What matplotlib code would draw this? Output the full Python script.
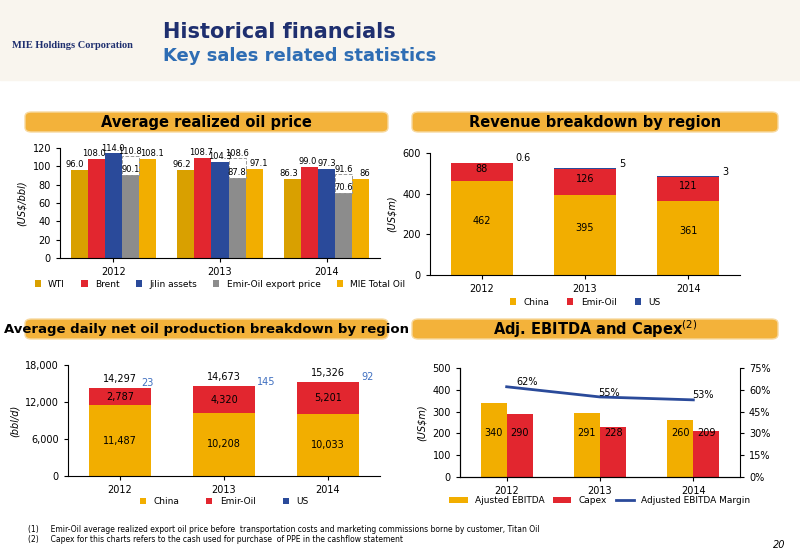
import matplotlib
matplotlib.use("Agg")
import matplotlib.pyplot as plt
import numpy as np
from matplotlib.patches import FancyBboxPatch, Rectangle

years = ["2012", "2013", "2014"]
# Average realized oil price
wti = [96.0, 96.2, 86.3]
brent = [108.0, 108.7, 99.0]
jilin = [114.0, 104.3, 97.3]
emir_export = [90.1, 87.8, 70.6]
emir_before = [110.8, 108.6, 91.6]
mie_total = [108.1, 97.1, 86]
# Revenue
rev_china = [462, 395, 361]
rev_emir = [88, 126, 121]
rev_us = [0.6, 5, 3]
# Production
prod_china = [11487, 10208, 10033]
prod_emir = [2787, 4320, 5201]
prod_us = [23, 145, 92]
prod_total = [14297, 14673, 15326]
# EBITDA
ebitda = [340, 291, 260]
capex = [290, 228, 209]
margin = [62, 55, 53]

GOLD = "#F2AE00"; WTI = "#D9A000"; RED = "#E2262F"; BLUE = "#2A4A9A"; GREY = "#8C8C8C"
fig = plt.figure(figsize=(8, 5.54), dpi=100)
W, H = 800, 554
def fx(x): return x / W
def fy(y): return 1 - y / H

# header
fig.patches.append(Rectangle((0, fy(80)), 1, 80 / H, transform=fig.transFigure, color="#F9F5EE", zorder=0))
fig.text(fx(163), fy(32), "Historical financials", fontsize=15, fontweight="bold", color="#1F2F6F", va="center")
fig.text(fx(163), fy(56), "Key sales related statistics", fontsize=13, fontweight="bold", color="#2E6DB4", va="center")
fig.text(fx(12), fy(45), "MIE Holdings Corporation", fontsize=7.5, fontweight="bold", color="#1F2F6F", va="center", family="Liberation Serif")

def header(x0, x1, y, text, fs=10.5):
    fig.patches.append(FancyBboxPatch((fx(x0), fy(y + 10)), (x1 - x0) / W, 20 / H,
                                      boxstyle="round,pad=0,rounding_size=0.008", transform=fig.transFigure,
                                      facecolor="#F3B23A", edgecolor="#F7D9A0", zorder=1))
    fig.text(fx((x0 + x1) / 2), fy(y), text, fontsize=fs, fontweight="bold", ha="center", va="center", zorder=2)

header(25, 388, 122, "Average realized oil price")
header(412, 778, 122, "Revenue breakdown by region")
header(25, 388, 329, "Average daily net oil production breakdown by region", fs=9.5)
header(412, 778, 329, "Adj. EBITDA and Capex$^{(2)}$")

def style(ax):
    for s in ["top", "right"]:
        ax.spines[s].set_visible(False)
    ax.tick_params(labelsize=7, length=3)

# TL
ax = fig.add_axes([0.075, 0.534, 0.4, 0.199])
x = np.arange(3); w = 0.16
series = [(wti, WTI, "WTI"), (brent, RED, "Brent"), (jilin, BLUE, "Jilin assets"),
          (emir_export, GREY, "Emir-Oil export price"), (mie_total, GOLD, "MIE Total Oil")]
for i, (vals, c, lab) in enumerate(series):
    pos = x + (i - 2) * w
    ax.bar(pos, vals, w, color=c, label=lab)
    for p, v in zip(pos, vals):
        dx = {0: -0.04, 1: -0.02, 2: 0.0, 3: 0.0, 4: 0.04}[i]
        ax.text(p + dx, v + 1, f"{v}", ha="center", va="bottom", fontsize=6)
for p, v, b in zip(x + w, emir_export, emir_before):
    ax.add_patch(Rectangle((p - w / 2, v), w, b - v, fill=False, ls="--", ec="#999999", lw=0.7))
    ax.text(p, b, f"{b}", ha="center", va="bottom", fontsize=6)
ax.set_ylim(0, 120); ax.set_yticks(range(0, 121, 20))
ax.set_xlim(-0.5, 2.5); ax.set_xticks(x); ax.set_xticklabels(years)
ax.set_ylabel("(US$/bbl)", fontsize=7, style="italic")
style(ax)
ax.legend(loc="upper center", bbox_to_anchor=(0.5, -0.12), ncol=5, fontsize=6.5, frameon=False,
          handlelength=0.7, handleheight=0.7, columnspacing=1.8)

# TR
ax = fig.add_axes([0.5375, 0.504, 0.3875, 0.22])
bw = 0.6
ax.bar(x, rev_china, bw, color=GOLD, label="China")
ax.bar(x, rev_emir, bw, bottom=rev_china, color=RED, label="Emir-Oil")
tops = np.array(rev_china) + np.array(rev_emir)
ax.bar(x, rev_us, bw, bottom=tops, color=BLUE, label="US")
for i in range(3):
    ax.text(x[i], rev_china[i] / 2 + 20, str(rev_china[i]), ha="center", fontsize=7)
    ax.text(x[i], rev_china[i] + rev_emir[i] / 2, str(rev_emir[i]), ha="center", fontsize=7)
    ax.text(x[i] + bw / 2 + 0.03, tops[i] + 8, str(rev_us[i]), ha="left", fontsize=7)
ax.set_ylim(0, 600); ax.set_yticks(range(0, 601, 200))
ax.set_xlim(-0.5, 2.5); ax.set_xticks(x); ax.set_xticklabels(years)
ax.set_ylabel("(US$m)", fontsize=7, style="italic")
style(ax)
ax.legend(loc="upper center", bbox_to_anchor=(0.5, -0.12), ncol=3, fontsize=6.5, frameon=False,
          handlelength=0.7, handleheight=0.7)

# BL
ax = fig.add_axes([0.085, 0.141, 0.39, 0.2])
ax.bar(x, prod_china, bw, color=GOLD, label="China")
ax.bar(x, prod_emir, bw, bottom=prod_china, color=RED, label="Emir-Oil")
ptops = np.array(prod_china) + np.array(prod_emir)
ax.bar(x, prod_us, bw, bottom=ptops, color=BLUE, label="US")
for i in range(3):
    ax.text(x[i], prod_china[i] / 2, f"{prod_china[i]:,}", ha="center", va="center", fontsize=7)
    ax.text(x[i], prod_china[i] + prod_emir[i] / 2, f"{prod_emir[i]:,}", ha="center", va="center", fontsize=7)
    ax.text(x[i] + bw / 2 + 0.02, ptops[i] + 300, str(prod_us[i]), ha="right" if i == 0 else "left",
            fontsize=7, color="#3F6FC0")
    ax.text(x[i], prod_total[i] + 900, f"{prod_total[i]:,}", ha="center", fontsize=7)
ax.set_ylim(0, 18000); ax.set_yticks([0, 6000, 12000, 18000])
ax.set_yticklabels(["0", "6,000", "12,000", "18,000"])
ax.set_xlim(-0.5, 2.5); ax.set_xticks(x); ax.set_xticklabels(years)
ax.set_ylabel("(bbl/d)", fontsize=7, style="italic")
style(ax)
ax.legend(loc="upper center", bbox_to_anchor=(0.5, -0.12), ncol=3, fontsize=6.5, frameon=False,
          handlelength=0.7, handleheight=0.7, columnspacing=3)

# BR
ax = fig.add_axes([0.575, 0.139, 0.35, 0.197])
bw2 = 0.28
ax.bar(x - bw2 / 2, ebitda, bw2, color=GOLD, label="Ajusted EBITDA")
ax.bar(x + bw2 / 2, capex, bw2, color=RED, label="Capex")
for i in range(3):
    ax.text(x[i] - bw2 / 2, 200, str(ebitda[i]), ha="center", va="center", fontsize=7)
    ax.text(x[i] + bw2 / 2, 200, str(capex[i]), ha="center", va="center", fontsize=7)
ax.set_ylim(0, 500); ax.set_yticks(range(0, 501, 100))
ax.set_xlim(-0.5, 2.5); ax.set_xticks(x); ax.set_xticklabels(years)
ax.set_ylabel("(US$m)", fontsize=7, style="italic")
style(ax)
ax2 = ax.twinx()
ln, = ax2.plot(x, margin, color=BLUE, lw=2, label="Adjusted EBITDA Margin")
for i in range(3):
    ax2.text(x[i] + 0.1, margin[i] + 1, f"{margin[i]}%", fontsize=7, ha="left" if i == 0 else "center")
ax2.set_ylim(0, 75); ax2.set_yticks(range(0, 76, 15))
ax2.set_yticklabels([f"{v}%" for v in range(0, 76, 15)])
ax2.spines["top"].set_visible(False)
ax2.tick_params(labelsize=7, length=3)
h1, l1 = ax.get_legend_handles_labels()
ax.legend(h1 + [ln], l1 + [ln.get_label()], loc="upper center", bbox_to_anchor=(0.5, -0.1), ncol=3,
          fontsize=6.5, frameon=False, handlelength=2, handleheight=0.7, columnspacing=1)

fig.text(fx(28), fy(529), "(1)     Emir-Oil average realized export oil price before  transportation costs and marketing commissions borne by customer, Titan Oil", fontsize=5.5, va="center")
fig.text(fx(28), fy(540), "(2)     Capex for this charts refers to the cash used for purchase  of PPE in the cashflow statement", fontsize=5.5, va="center")
fig.text(fx(785), fy(545), "20", fontsize=7, style="italic", ha="right", va="center")

fig.savefig("out.png", dpi=100)
